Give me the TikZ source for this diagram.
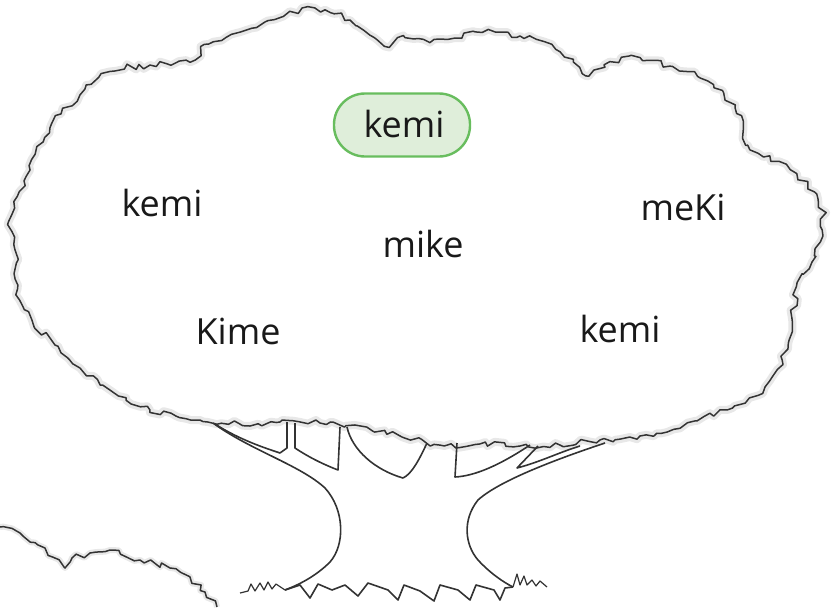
\documentclass[tikz,border=0pt]{standalone}
\usepackage{fontspec}
\setmainfont{Open Sans}
\usepackage{tikz}
\usetikzlibrary{decorations.pathmorphing,positioning}

\definecolor{boxline}{RGB}{104,189,94}
\definecolor{boxfill}{RGB}{223,238,218}

\begin{document}
\begin{tikzpicture}[
  x=1pt, y=-1pt,
  leafy/.style={draw=black!80, line width=1.5pt, line join=round, decorate, decoration={random steps, segment length=6pt, amplitude=3.2pt}},
  leafyshade/.style={draw=black!9, line width=8pt, line join=round, decorate, decoration={random steps, segment length=6pt, amplitude=3.2pt}},
  bark/.style={draw=black!80, line width=1.6pt, line join=round},
  word/.style={font=\fontsize{36}{40}\selectfont, text=black!90, anchor=base, inner sep=0pt},
  answer/.style={draw=boxline, line width=2.4pt, fill=boxfill, rounded corners=31pt, minimum width=136pt, minimum height=63pt}
]
\useasboundingbox (0,0) rectangle (833,608);

% crown
\pgfmathsetseed{7}
\draw[leafyshade] plot[smooth cycle, tension=0.6] coordinates {
  (20,300) (15,250) (12,215) (30,170) (50,128) (80,95) (110,72) (150,65) (190,62)
  (205,45) (240,32) (265,22) (290,12) (325,10) (350,20) (370,35) (385,45) (405,38)
  (430,42) (455,38) (475,32) (520,36) (560,52) (586,75) (610,62) (640,58) (700,78)
  (735,108) (748,145) (790,170) (818,200) (822,230) (812,262) (798,283) (792,320)
  (782,360) (758,395) (720,410) (680,428) (640,436) (600,440) (560,445) (520,446)
  (480,444) (440,445) (400,436) (360,426) (320,423) (280,422) (240,424) (200,420)
  (150,410) (110,390) (80,368) (55,345) (32,320)};
\pgfmathsetseed{7}
\draw[leafy] plot[smooth cycle, tension=0.6] coordinates {
  (20,300) (15,250) (12,215) (30,170) (50,128) (80,95) (110,72) (150,65) (190,62)
  (205,45) (240,32) (265,22) (290,12) (325,10) (350,20) (370,35) (385,45) (405,38)
  (430,42) (455,38) (475,32) (520,36) (560,52) (586,75) (610,62) (640,58) (700,78)
  (735,108) (748,145) (790,170) (818,200) (822,230) (812,262) (798,283) (792,320)
  (782,360) (758,395) (720,410) (680,428) (640,436) (600,440) (560,445) (520,446)
  (480,444) (440,445) (400,436) (360,426) (320,423) (280,422) (240,424) (200,420)
  (150,410) (110,390) (80,368) (55,345) (32,320)};

% trunk
\draw[bark] (213,423) .. controls (250,450) and (300,465) .. (325,488)
  .. controls (345,510) and (345,545) .. (330,562) .. controls (315,577) and (298,585) .. (285,590);
\draw[bark] (605,443) .. controls (560,458) and (500,480) .. (478,500)
  .. controls (462,520) and (465,545) .. (478,560) .. controls (490,573) and (503,582) .. (513,587);
\draw[bark] (285,590) -- (300,585) -- (310,598) -- (318,584) -- (332,590) -- (345,585) -- (358,596)
  -- (368,583) -- (388,590) -- (398,600) -- (404,585) -- (420,591) -- (434,601) -- (440,585)
  -- (458,590) -- (470,600) -- (476,585) -- (494,590) -- (500,600) -- (505,588) -- (513,587);
\draw[bark] (215,424) .. controls (240,440) and (265,448) .. (280,453) -- (287,448) -- (287,422);
\draw[bark] (295,423) -- (295,448) .. controls (310,458) and (325,465) .. (338,470) -- (340,427);
\draw[bark] (347,427) .. controls (352,450) and (375,470) .. (403,478) .. controls (412,474) and (420,458) .. (427,443);
\draw[bark] (457,443) -- (455,477) .. controls (475,476) and (500,465) .. (530,445);
\draw[bark] (538,446) -- (517,468) .. controls (540,462) and (560,452) .. (580,446);

% grass
\draw[bark, line width=1.2pt] (240,593) -- (248,591) -- (251,584) -- (255,591) -- (260,583) -- (264,590)
  -- (268,582) -- (272,589) -- (276,584) -- (285,590);
\draw[bark, line width=1.2pt] (513,587) -- (517,574) -- (520,585) -- (524,576) -- (527,585) -- (532,580)
  -- (536,586) -- (540,581) -- (547,587);

% bush
\pgfmathsetseed{3}
\draw[leafyshade, line width=6pt] (0,527) -- (20,533) -- (45,548) -- (65,568) -- (72,558) -- (90,553)
  -- (110,550) -- (140,560) -- (170,568) -- (190,577) -- (205,592) -- (217,607);
\pgfmathsetseed{3}
\draw[leafy] (0,527) -- (20,533) -- (45,548) -- (65,568) -- (72,558) -- (90,553)
  -- (110,550) -- (140,560) -- (170,568) -- (190,577) -- (205,592) -- (217,607);

% words
\node[answer] (box) at (402,125) {};
\node[word] (topWord) at (404,137) {kemi};
\node[word] (leftWord) at (162,216) {kemi};
\node[word] (midWord) at (423,257) {mike};
\node[word] (rightWord) at (683,220) {meKi};
\node[word] (lowLeftWord) at (238,344) {Kime};
\node[word] (lowRightWord) at (620,342) {kemi};

\end{tikzpicture}
\end{document}
